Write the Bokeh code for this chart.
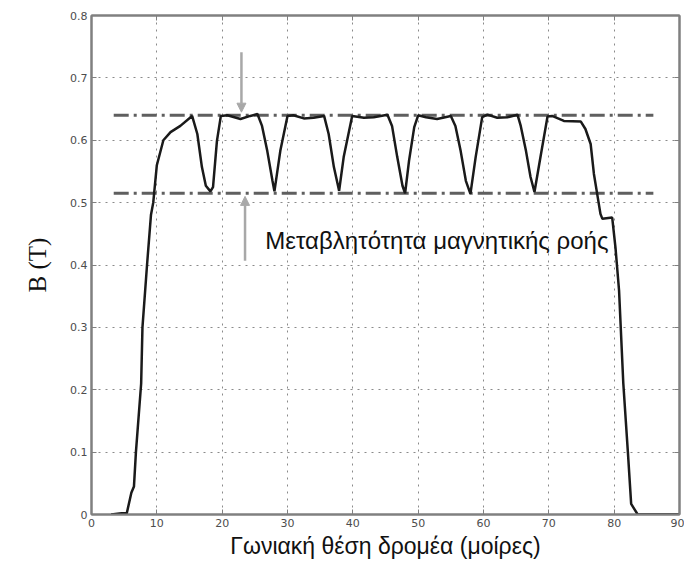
from bokeh.embed import file_html
from bokeh.resources import INLINE
from bokeh.plotting import figure
from bokeh.models import (Range1d, FixedTicker, LinearAxis, Label, Arrow,
                          NormalHead, CustomJSTickFormatter)

# Flux density along the rotor angle
angle_deg = [3.0, 4.6, 5.4, 6.1, 6.5, 6.8, 7.6, 7.8, 8.5, 9.1, 9.45, 10.0, 11.0,
             12.1, 13.6, 15.4, 16.2, 16.9, 17.5, 18.2, 18.6, 19.2, 19.8, 20.8,
             22.8, 24.3, 25.4, 26.1, 26.9, 27.7, 28.0, 28.9, 30.0, 30.9, 32.5,
             34.0, 35.6, 36.3, 37.1, 37.9, 38.6, 39.9, 41.7, 43.2, 45.3, 46.0,
             46.8, 47.6, 48.0, 48.6, 49.4, 50.0, 51.2, 52.9, 55.0, 55.7, 56.5,
             57.3, 58.0, 58.8, 59.8, 60.6, 62.1, 63.7, 65.2, 65.7, 66.5, 67.2,
             67.8, 68.8, 69.8, 70.5, 72.3, 74.9, 75.6, 76.4, 76.9, 77.4, 77.9,
             78.2, 79.7, 80.2, 80.75, 81.4, 82.1, 82.6, 83.6, 90.0]
flux_T = [0.0, 0.002, 0.002, 0.035, 0.045, 0.10, 0.21, 0.30, 0.40, 0.48, 0.50,
          0.56, 0.60, 0.613, 0.623, 0.639, 0.61, 0.557, 0.527, 0.518, 0.525,
          0.599, 0.639, 0.64, 0.634, 0.639, 0.642, 0.623, 0.583, 0.535, 0.518,
          0.583, 0.639, 0.64, 0.635, 0.636, 0.639, 0.61, 0.557, 0.519, 0.573,
          0.639, 0.636, 0.637, 0.641, 0.623, 0.573, 0.527, 0.515, 0.567, 0.621,
          0.64, 0.637, 0.634, 0.639, 0.623, 0.583, 0.535, 0.514, 0.573, 0.637,
          0.641, 0.636, 0.637, 0.641, 0.623, 0.583, 0.541, 0.517, 0.578, 0.638,
          0.639, 0.631, 0.63, 0.618, 0.594, 0.546, 0.514, 0.482, 0.474, 0.476,
          0.428, 0.359, 0.21, 0.10, 0.017, 0.0, 0.0]

# Upper and lower envelope of the ripple
envelope_x = [3.4, 86.0]
envelope_max = [0.64, 0.64]
envelope_min = [0.515, 0.515]

x_ticks = [0, 10, 20, 30, 40, 50, 60, 70, 80, 90]
y_ticks = [0, 0.1, 0.2, 0.3, 0.4, 0.5, 0.6, 0.7, 0.8]
y_tick_labels = ["0", "0.1", "0.2", "0.3", "0.4", "0.5", "0.6", "0.7", "0.8"]

frame_grey = "#808080"
tick_grey = "#4d4d4d"

p = figure(width=684, height=562, output_backend="svg", toolbar_location=None,
           x_range=Range1d(0, 90), y_range=Range1d(0, 0.8),
           min_border_left=91, min_border_right=5, min_border_top=15,
           min_border_bottom=48)
p.background_fill_color = "white"
p.border_fill_color = "white"
p.outline_line_color = frame_grey
p.outline_line_width = 2

# Axes with inward ticks
p.xaxis.ticker = FixedTicker(ticks=x_ticks)
p.yaxis.ticker = FixedTicker(ticks=y_ticks)
p.yaxis.major_label_overrides = {t: s for t, s in zip(y_ticks, y_tick_labels)}
for ax in (p.xaxis[0], p.yaxis[0]):
    ax.axis_line_color = frame_grey
    ax.axis_line_width = 2
    ax.major_tick_in = 5
    ax.major_tick_out = 0
    ax.major_tick_line_color = frame_grey
    ax.minor_tick_line_color = None
    ax.major_label_text_font = "DejaVu Sans"
    ax.major_label_text_font_size = "11px"
    ax.major_label_text_color = tick_grey
    ax.major_label_standoff = 4

p.xaxis.axis_label = "Γωνιακή θέση δρομέα (μοίρες)"
p.xaxis.axis_label_text_font = "Liberation Sans"
p.xaxis.axis_label_text_font_style = "normal"
p.xaxis.axis_label_text_font_size = "23px"
p.xaxis.axis_label_text_color = "#111111"
p.xaxis.axis_label_standoff = 3

p.yaxis.axis_label = "B (T)"
p.yaxis.axis_label_text_font = "Liberation Serif"
p.yaxis.axis_label_text_font_style = "normal"
p.yaxis.axis_label_text_font_size = "25px"
p.yaxis.axis_label_text_color = "#111111"
p.yaxis.axis_label_standoff = 16

blank = CustomJSTickFormatter(code="return ''")
right_axis = LinearAxis(ticker=FixedTicker(ticks=y_ticks), formatter=blank,
                        axis_line_color=frame_grey, axis_line_width=2,
                        major_tick_in=5, major_tick_out=0,
                        major_tick_line_color=frame_grey, minor_tick_line_color=None)
top_axis = LinearAxis(ticker=FixedTicker(ticks=x_ticks), formatter=blank,
                      axis_line_color=frame_grey, axis_line_width=2,
                      major_tick_in=5, major_tick_out=0,
                      major_tick_line_color=frame_grey, minor_tick_line_color=None)
p.add_layout(right_axis, "right")
p.add_layout(top_axis, "above")

# Dotted grid
p.grid.grid_line_color = "#8a8a8a"
p.grid.grid_line_dash = "2 5"
p.grid.grid_line_width = 1

# Envelope lines (dash-dot)
p.line(envelope_x, envelope_max, line_color="#5f5f5f", line_width=3,
       line_dash="15 5 3 5")
p.line(envelope_x, envelope_min, line_color="#5f5f5f", line_width=3,
       line_dash="15 5 3 5")

# Flux density curve
p.line(angle_deg, flux_T, line_color="#1a1a1a", line_width=2.5)

# Arrows marking the ripple band
arrow_grey = "#a8a8a8"
p.add_layout(Arrow(x_start=22.95, y_start=0.741, x_end=22.95, y_end=0.645,
                   line_color=arrow_grey, line_width=2.5,
                   end=NormalHead(size=9, fill_color=arrow_grey,
                                  line_color=arrow_grey)))
p.add_layout(Arrow(x_start=23.5, y_start=0.407, x_end=23.5, y_end=0.51,
                   line_color=arrow_grey, line_width=2.5,
                   end=NormalHead(size=9, fill_color=arrow_grey,
                                  line_color=arrow_grey)))

p.add_layout(Label(x=26.6, y=0.439, text="Μεταβλητότητα μαγνητικής ροής",
                   text_baseline="middle", text_align="left",
                   text_font="Liberation Sans", text_font_size="24px",
                   text_color="#111111"))

open("out.html", "w").write(file_html(p, INLINE))
